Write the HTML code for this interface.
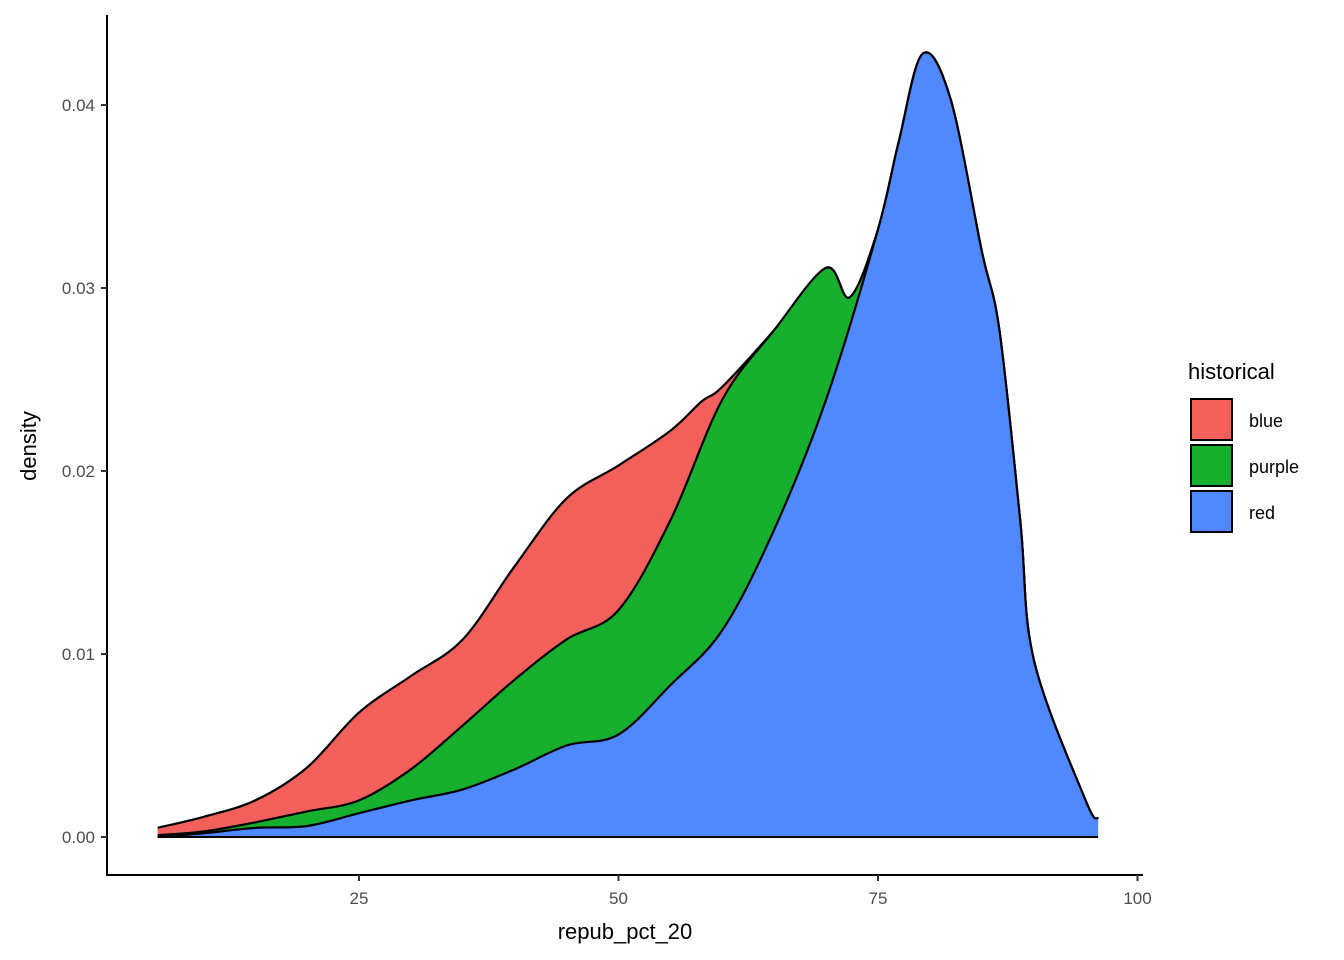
<!DOCTYPE html>
<html><head><meta charset="utf-8"><style>
body{margin:0;background:#fff}
svg{display:block;font-family:"Liberation Sans",Arial,sans-serif}
</style></head><body>
<svg id="chart" width="1344" height="960">
<g id="areas"></g>
<g id="axes"></g>
<g id="legend"></g>
</svg>
<script>
const xsRed=[5.6,10,15,20,25,30,35,40,45,50,55,60,65,70,75,77,79.3,82,85,86.7,88.7,90,95,96.2];
const redTop=[0,0.0002,0.0005,0.0006,0.0013,0.002,0.0026,0.0037,0.005,0.0056,0.0083,0.0113,0.0168,0.0239,0.0332,0.038,0.0428,0.0403,0.032,0.0277,0.0173,0.0097,0.002,0.001];
const xsPurple=[5.6,10,15,20,25,30,35,40,45,50,55,60,65,70,72.3,75,77,79.3,82,85,86.7,88.7,90,95,96.2];
const purpleTop=[0.0001,0.0003,0.0008,0.0014,0.002,0.0037,0.0061,0.0086,0.0108,0.0124,0.0173,0.0239,0.0277,0.0311,0.0295,0.0332,0.038,0.0428,0.0403,0.032,0.0277,0.0173,0.0097,0.002,0.001];
const xsBlue=[5.6,10,15,20,25,30,35,40,45,50,55,58,60,65,70,72.3,75,77,79.3,82,85,86.7,88.7,90,95,96.2];
const blueTop=[0.0005,0.0011,0.002,0.0038,0.0068,0.0088,0.0108,0.0148,0.0185,0.0203,0.0222,0.0238,0.0246,0.0277,0.0311,0.0295,0.0332,0.038,0.0428,0.0403,0.032,0.0277,0.0173,0.0097,0.002,0.001];
const xTicks=[25,50,75,100];
const yTicks=[0,0.01,0.02,0.03,0.04];
const yTickLabels=["0.00","0.01","0.02","0.03","0.04"];
const groups=["blue","purple","red"];
const colors=["#F35F5B","#17B02E","#4F88FF"];
const NS="http://www.w3.org/2000/svg";
const X=v=>99.5+10.38*v, Y=v=>837-18300*v;
function mk(tag,attrs,parent){const e=document.createElementNS(NS,tag);for(const k in attrs)e.setAttribute(k,attrs[k]);parent.appendChild(e);return e;}
function smooth(pts){let d="";for(let i=0;i<pts.length-1;i++){const p0=pts[Math.max(0,i-1)],p1=pts[i],p2=pts[i+1],p3=pts[Math.min(pts.length-1,i+2)];
const c1=[p1[0]+(p2[0]-p0[0])/6,p1[1]+(p2[1]-p0[1])/6],c2=[p2[0]-(p3[0]-p1[0])/6,p2[1]-(p3[1]-p1[1])/6];
d+=` C${c1[0].toFixed(1)},${c1[1].toFixed(1)} ${c2[0].toFixed(1)},${c2[1].toFixed(1)} ${p2[0].toFixed(1)},${p2[1].toFixed(1)}`;}return d;}
const areas=document.getElementById('areas');
const layers=[[xsBlue,blueTop,0],[xsPurple,purpleTop,1],[xsRed,redTop,2]];
layers.forEach(([xs,ys,ci])=>{
  const pts=xs.map((x,i)=>[X(x),Y(ys[i])]);
  const line="M"+pts[0][0]+","+pts[0][1]+smooth(pts);
  const a=mk('path',{d:line+` L${X(xs[xs.length-1])},${Y(0)} L${X(xs[0])},${Y(0)} Z`,fill:colors[ci],stroke:'none'},areas);
  
  
  const l=mk('path',{d:line,fill:'none',stroke:'#000','stroke-width':2.2},areas);
  
  
});
const base=mk('line',{x1:X(5.6),x2:X(96.2),y1:Y(0),y2:Y(0),stroke:'#000','stroke-width':2},areas);


const axes=document.getElementById('axes');
mk('line',{x1:107,x2:107,y1:15,y2:876,stroke:'#000','stroke-width':2},axes);
mk('line',{x1:106,x2:1143,y1:875,y2:875,stroke:'#000','stroke-width':2},axes);
yTicks.forEach((v,i)=>{
  mk('line',{x1:101,x2:107,y1:Y(v),y2:Y(v),stroke:'#333','stroke-width':2},axes);
  const t=mk('text',{x:95,y:Y(v)+6,'text-anchor':'end','font-size':17,fill:'#4d4d4d'},axes);
  t.textContent=yTickLabels[i];
  
  
});
xTicks.forEach(v=>{
  mk('line',{x1:X(v),x2:X(v),y1:875,y2:881,stroke:'#333','stroke-width':2},axes);
  const t=mk('text',{x:X(v),y:904,'text-anchor':'middle','font-size':17,fill:'#4d4d4d'},axes);
  t.textContent=v;
  
  
});
const xt=mk('text',{x:625,y:939,'text-anchor':'middle','font-size':22},axes);xt.textContent='repub_pct_20';


const yt=mk('text',{x:36,y:446,'text-anchor':'middle','font-size':22,transform:'rotate(-90 36 446)'},axes);yt.textContent='density';


const lg=document.getElementById('legend');
const lt=mk('text',{x:1188,y:379,'font-size':22},lg);lt.textContent='historical';


groups.forEach((g,i)=>{
  const r=mk('rect',{x:1191,y:399+46*i,width:41,height:41,fill:colors[i],stroke:'#000','stroke-width':2},lg);
  
  
  const t=mk('text',{x:1249,y:427+46*i,'font-size':18},lg);t.textContent=g;
  
  
});
</script>
</body></html>
